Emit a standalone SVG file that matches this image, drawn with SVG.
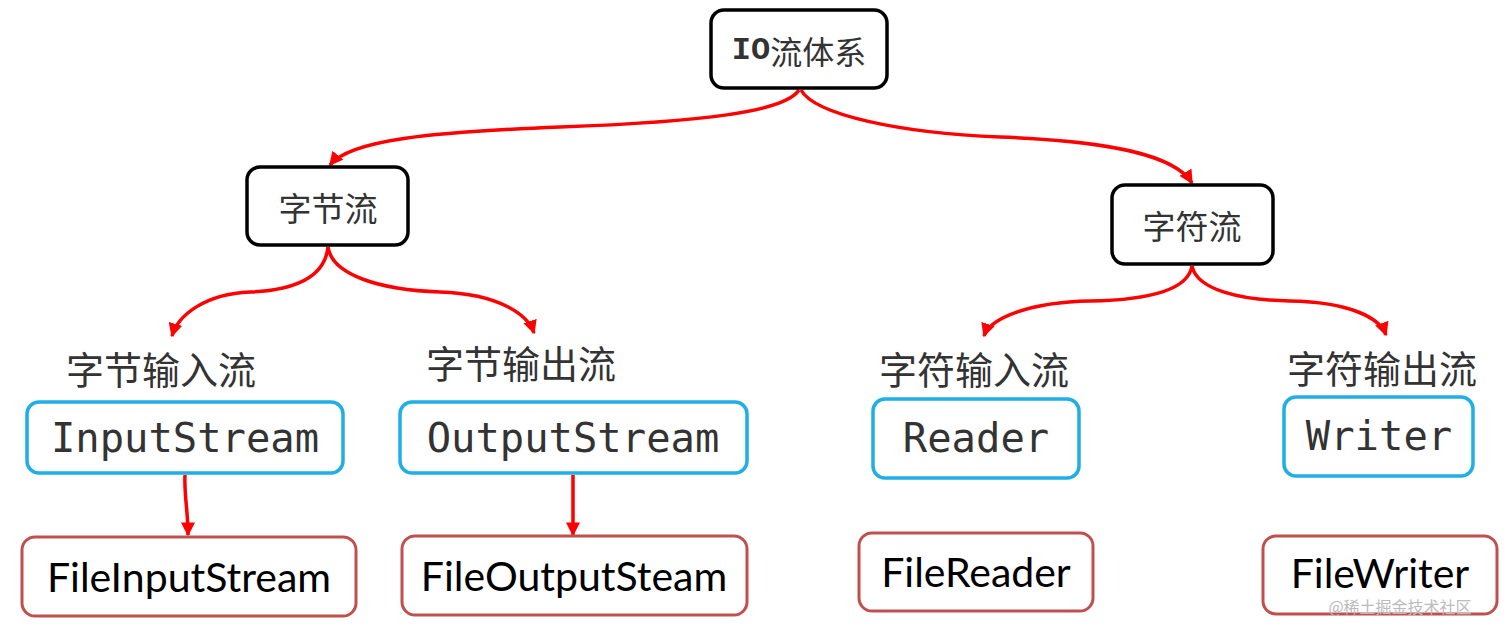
<svg xmlns="http://www.w3.org/2000/svg" width="1512" height="629" viewBox="0 0 1512 629">
<style>
.top{fill:#fff;stroke:#000;stroke-width:3.5}
.blue{fill:#fff;stroke:#1FAEE6;stroke-width:3.5}
.brown{fill:#fff;stroke:#C0504D;stroke-width:3}
.cn{font-family:"Noto Sans CJK SC",sans-serif;fill:#333;text-anchor:middle;dominant-baseline:central}
.mono{font-family:"DejaVu Sans Mono","Liberation Mono",monospace;fill:#333;text-anchor:middle;dominant-baseline:central;font-size:40.5px}
.cal{font-family:Lato,"Open Sans",sans-serif;fill:#000;text-anchor:middle;dominant-baseline:central;font-size:41px}
.conn{fill:none;stroke:#FF0000;stroke-width:3.5}
</style>
<defs>
<marker id="ah" viewBox="0 0 10 10" refX="9" refY="5" markerWidth="4" markerHeight="4" orient="auto" markerUnits="strokeWidth">
<path d="M0,0 L10,5 L0,10 z" fill="#FF0000"/>
</marker>
</defs>
<g id="connectors">
<path class="conn" marker-end="url(#ah)" d="M799,90 C785,112 700,122 560,127 C430,132 350,140 330,165"/>
<path class="conn" marker-end="url(#ah)" d="M801,90 C815,115 900,133 1000,137 C1110,141 1175,155 1192,183"/>
<path class="conn" marker-end="url(#ah)" d="M328,247 C325,275 300,290 250,292 C205,294 178,315 172,336"/>
<path class="conn" marker-end="url(#ah)" d="M328,247 C332,275 380,290 440,292 C500,294 528,315 534,333"/>
<path class="conn" marker-end="url(#ah)" d="M1192,266 C1188,290 1150,300 1090,301 C1030,302 990,318 984,336"/>
<path class="conn" marker-end="url(#ah)" d="M1192,266 C1197,290 1240,300 1290,301 C1350,302 1380,318 1386,335"/>
<path class="conn" marker-end="url(#ah)" d="M185,475 C184,495 188,510 188,535"/>
<path class="conn" marker-end="url(#ah)" d="M573,475 L573,535"/>
</g>
<g id="n-io">
<rect class="top" x="711" y="10" width="176" height="78" rx="13"/>
<text class="cn" x="799" y="50" font-size="32"><tspan font-family="Liberation Mono,monospace" font-weight="bold">IO</tspan>流体系</text>
</g>
<g id="n-byte">
<rect class="top" x="247" y="167" width="161" height="78" rx="13"/>
<text class="cn" x="328" y="207" font-size="33">字节流</text>
</g>
<g id="n-char">
<rect class="top" x="1112" y="185" width="161" height="79" rx="13"/>
<text class="cn" x="1192" y="225" font-size="33">字符流</text>
</g>
<g id="l-bin"><text class="cn" x="161" y="367" font-size="38">字节输入流</text></g>
<g id="l-bout"><text class="cn" x="521" y="361" font-size="38">字节输出流</text></g>
<g id="l-cin"><text class="cn" x="974" y="367" font-size="38">字符输入流</text></g>
<g id="l-cout"><text class="cn" x="1382" y="366" font-size="38">字符输出流</text></g>
<g id="n-inputstream">
<rect class="blue" x="27" y="402" width="316" height="71" rx="12"/>
<text class="mono" x="185" y="438">InputStream</text>
</g>
<g id="n-outputstream">
<rect class="blue" x="400" y="402" width="347" height="71" rx="12"/>
<text class="mono" x="573" y="438">OutputStream</text>
</g>
<g id="n-reader">
<rect class="blue" x="873" y="399" width="206" height="79" rx="12"/>
<text class="mono" x="976" y="438">Reader</text>
</g>
<g id="n-writer">
<rect class="blue" x="1284" y="397" width="189" height="79" rx="12"/>
<text class="mono" x="1379" y="436">Writer</text>
</g>
<g id="n-fis">
<rect class="brown" x="22" y="537" width="334" height="79" rx="13"/>
<text class="cal" x="189" y="576">FileInputStream</text>
</g>
<g id="n-fos">
<rect class="brown" x="402" y="536" width="345" height="79" rx="13"/>
<text class="cal" x="574" y="575">FileOutputSteam</text>
</g>
<g id="n-fr">
<rect class="brown" x="859" y="533" width="234" height="78" rx="13"/>
<text class="cal" x="976" y="571">FileReader</text>
</g>
<g id="n-fw">
<rect class="brown" x="1263" y="536" width="234" height="78" rx="13"/>
<text class="cal" x="1380" y="572" font-size="38">FileWriter</text>
</g>
<text x="1400" y="606" font-family="Noto Sans CJK SC,sans-serif" font-size="16" fill="#bbb" text-anchor="middle" dominant-baseline="central">@稀土掘金技术社区</text>
</svg>
